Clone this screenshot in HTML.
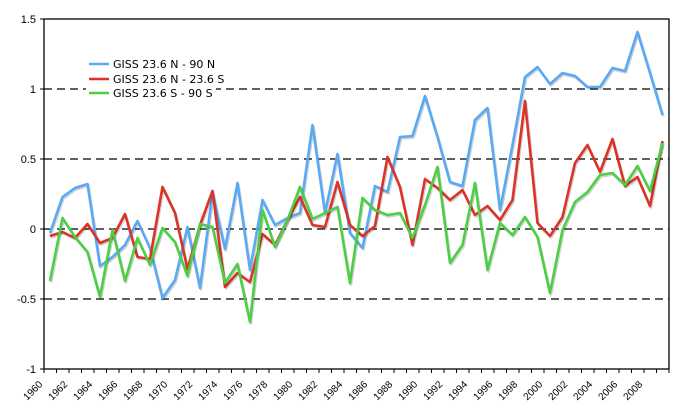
<!DOCTYPE html>
<html><head><meta charset="utf-8"><style>
html,body{margin:0;padding:0;background:#fff;}
svg{display:block;font-family:"Liberation Sans","DejaVu Sans",sans-serif;}
</style></head><body>
<svg width="688" height="419" viewBox="0 0 688 419" xmlns="http://www.w3.org/2000/svg">
<rect width="688" height="419" fill="#fff"/>
<g stroke="#000" stroke-width="1.2" stroke-dasharray="8,5">
<line x1="44" y1="89" x2="669" y2="89"/>
<line x1="44" y1="159" x2="669" y2="159"/>
<line x1="44" y1="229" x2="669" y2="229"/>
<line x1="44" y1="299" x2="669" y2="299"/>
</g>
<rect x="44" y="19" width="625" height="350" fill="none" stroke="#000" stroke-width="1.3"/>
<g stroke="#000" stroke-width="1">
<line x1="40" y1="19" x2="44" y2="19"/><line x1="40" y1="89" x2="44" y2="89"/><line x1="40" y1="159" x2="44" y2="159"/><line x1="40" y1="229" x2="44" y2="229"/><line x1="40" y1="299" x2="44" y2="299"/><line x1="40" y1="369" x2="44" y2="369"/>
</g>
<g id="xt" stroke="#000" stroke-width="1"></g>
<g font-size="11" text-anchor="end" fill="#000">
<text x="36" y="23">1.5</text><text x="36" y="93">1</text><text x="36" y="163">0.5</text><text x="36" y="233">0</text><text x="36" y="303">-0.5</text><text x="36" y="373">-1</text>
</g>
<g id="xl" font-size="10" text-anchor="end" fill="#000"></g>
<g id="series" fill="none" stroke-width="2.6" stroke-linejoin="round"></g>
<rect x="86" y="56" width="130" height="44" fill="#fff"/>
<line x1="89" y1="64" x2="109" y2="64" stroke="#5aa9f5" stroke-width="2.6"/>
<line x1="89" y1="79" x2="109" y2="79" stroke="#db3328" stroke-width="2.6"/>
<line x1="89" y1="93" x2="109" y2="93" stroke="#4ccf44" stroke-width="2.6"/>
<g font-size="11" fill="#000" style="font-family:'DejaVu Sans',sans-serif">
<text x="113" y="68">GISS 23.6 N - 90 N</text>
<text x="113" y="83">GISS 23.6 N - 23.6 S</text>
<text x="113" y="97">GISS 23.6 S - 90 S</text>
</g>
</svg>
<script>
var NS="http://www.w3.org/2000/svg";
var xt=document.getElementById("xt"),xl=document.getElementById("xl");
for(var k=0;k<=50;k++){var x=44+12.5*k;var l=document.createElementNS(NS,"line");l.setAttribute("x1",x);l.setAttribute("x2",x);l.setAttribute("y1",369);l.setAttribute("y2",373);xt.appendChild(l);
if(k%2==0&&k<50){var t=document.createElementNS(NS,"text");t.setAttribute("transform","translate("+(x-1)+",385) rotate(-45)");t.textContent=1960+k;xl.appendChild(t);}}
var B=[233,197,188,184,266,257,245,221,248,298,280,227,288,193,249,183,270,200,225,218,213,125,213,154,233,248,186,192,137,136,96,137,182,186,120,108,210,145,77,67,84,73,76,87,87,68,71,32,73,115];
var R=[236,232,238,224,243,238,214,257,259,187,213,269,225,191,287,273,282,234,245,220,197,225,227,182,225,236,226,157,187,245,179,188,200,190,215,206,220,200,101,223,236,217,163,145,172,139,186,177,206,141];
var G=[281,218,237,252,297,230,281,238,265,228,242,276,224,227,283,264,322,210,247,220,187,219,213,207,283,198,210,215,213,238,205,167,263,245,183,270,223,235,217,237,293,230,202,192,175,173,185,166,191,143];
var s=document.getElementById("series");
function draw(a,c){var p=a.map(function(y,i){return (50+12.5*i)+","+y}).join(" ");
var sh=document.createElementNS(NS,"polyline");sh.setAttribute("points",a.map(function(y,i){return (51+12.5*i)+","+(y+1.5)}).join(" "));sh.setAttribute("stroke","rgba(0,0,0,0.18)");s.appendChild(sh);
var pl=document.createElementNS(NS,"polyline");pl.setAttribute("points",p);pl.setAttribute("stroke",c);s.appendChild(pl);}
draw(B,"#5aa9f5");draw(R,"#db3328");draw(G,"#4ccf44");
</script>
</body></html>
